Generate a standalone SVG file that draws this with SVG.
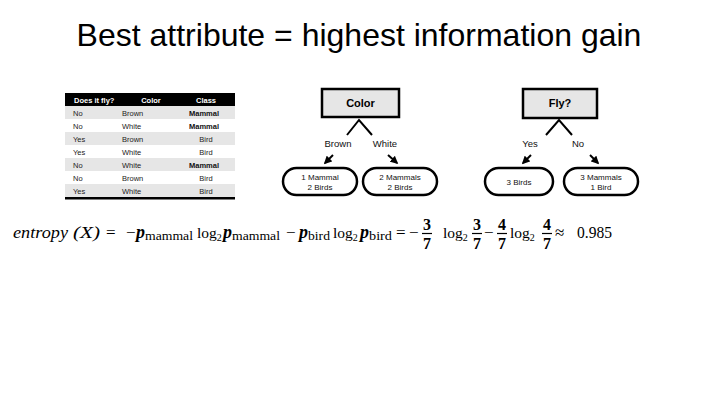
<svg xmlns="http://www.w3.org/2000/svg" width="720" height="405" viewBox="0 0 720 405">
<style>
.t{font-family:"Liberation Sans",Arial,sans-serif}
.th{font-family:"Liberation Sans",Arial,sans-serif;font-size:7.5px;fill:#fff;font-weight:bold}
.td{font-family:"Liberation Sans",Arial,sans-serif;font-size:7.5px;fill:#222}
.tb{font-family:"Liberation Sans",Arial,sans-serif;font-size:7.5px;fill:#111;font-weight:bold}
.box{fill:#e6e6e6;stroke:#000;stroke-width:2.5}
.leaf{fill:#fff;stroke:#000;stroke-width:2.5}
.nl{font-family:"Liberation Sans",Arial,sans-serif;font-size:11px;font-weight:bold;text-anchor:middle}
.ll{font-family:"Liberation Sans",Arial,sans-serif;font-size:8px;text-anchor:middle;fill:#111}
.el{font-family:"Liberation Sans",Arial,sans-serif;font-size:9.5px;text-anchor:middle;fill:#111}
.c{stroke:#000;stroke-width:2;fill:none}
.f{font-family:"Liberation Serif","Times New Roman",serif;font-size:17px;fill:#000}
.fl{font-family:"Liberation Serif","Times New Roman",serif;font-size:15.5px;fill:#000}
.fi{font-family:"Liberation Serif","Times New Roman",serif;font-size:17px;fill:#000;font-style:italic}
.fp{font-family:"Liberation Serif","Times New Roman",serif;font-size:18px;fill:#000;font-style:italic;font-weight:bold}
.fs{font-family:"Liberation Serif","Times New Roman",serif;font-size:12px;fill:#000}
.fn{font-family:"Liberation Serif","Times New Roman",serif;font-size:16px;fill:#000;text-anchor:middle;font-weight:bold}
.fb{stroke:#000;stroke-width:1.2}
</style>
<defs>
<marker id="ah" viewBox="0 0 10 10" refX="8" refY="5" markerWidth="4" markerHeight="4" orient="auto">
<path d="M0,0 L10,5 L0,10 z" fill="#000"/>
</marker>
</defs>
<rect width="720" height="405" fill="#fff"/>
<text class="t" x="359" y="46" font-size="32" text-anchor="middle">Best attribute = highest information gain</text>

<g id="table">
<rect x="65" y="93" width="170" height="13" fill="#000"/>
<rect x="65" y="106" width="170" height="13" fill="#e6e6e6"/>
<rect x="65" y="132" width="170" height="13" fill="#e6e6e6"/>
<rect x="65" y="158" width="170" height="13" fill="#e6e6e6"/>
<rect x="65" y="184" width="170" height="13" fill="#e6e6e6"/>
<rect x="65" y="197" width="170" height="2.5" fill="#000"/>
<text class="th" x="74" y="102.5">Does it fly?</text>
<text class="th" x="151" y="102.5" text-anchor="middle">Color</text>
<text class="th" x="206" y="102.5" text-anchor="middle">Class</text>
<text class="td" x="73" y="115.5">No</text><text class="td" x="122" y="115.5">Brown</text><text class="tb" x="204" y="115.5" text-anchor="middle">Mammal</text>
<text class="td" x="73" y="128.5">No</text><text class="td" x="122" y="128.5">White</text><text class="tb" x="204" y="128.5" text-anchor="middle">Mammal</text>
<text class="td" x="73" y="141.5">Yes</text><text class="td" x="122" y="141.5">Brown</text><text class="td" x="206" y="141.5" text-anchor="middle">Bird</text>
<text class="td" x="73" y="154.5">Yes</text><text class="td" x="122" y="154.5">White</text><text class="td" x="206" y="154.5" text-anchor="middle">Bird</text>
<text class="td" x="73" y="167.5">No</text><text class="td" x="122" y="167.5">White</text><text class="tb" x="204" y="167.5" text-anchor="middle">Mammal</text>
<text class="td" x="73" y="180.5">No</text><text class="td" x="122" y="180.5">Brown</text><text class="td" x="206" y="180.5" text-anchor="middle">Bird</text>
<text class="td" x="73" y="193.5">Yes</text><text class="td" x="122" y="193.5">White</text><text class="td" x="206" y="193.5" text-anchor="middle">Bird</text>
</g>

<g id="connectors">
<polyline class="c" points="347,135 359,120 372,135"/>
<line class="c" x1="333" y1="155" x2="325" y2="163" marker-end="url(#ah)"/>
<line class="c" x1="388" y1="155" x2="397" y2="163" marker-end="url(#ah)"/>
<polyline class="c" points="546,135 559,120 572,135"/>
<line class="c" x1="531" y1="155" x2="523" y2="163" marker-end="url(#ah)"/>
<line class="c" x1="590" y1="155" x2="598" y2="163" marker-end="url(#ah)"/>
<text class="el" x="338" y="147">Brown</text>
<text class="el" x="385" y="147">White</text>
<text class="el" x="530" y="147">Yes</text>
<text class="el" x="578" y="147">No</text>
</g>

<g id="node-color">
<rect class="box" x="322" y="89" width="77" height="28"/>
<text class="nl" x="360.5" y="107">Color</text>
</g>
<g id="node-brown">
<rect class="leaf" x="283" y="168" width="74" height="27" rx="13.5"/>
<text class="ll" x="320" y="180">1 Mammal</text>
<text class="ll" x="320" y="190">2 Birds</text>
</g>
<g id="node-white">
<rect class="leaf" x="363" y="168" width="74" height="27" rx="13.5"/>
<text class="ll" x="400" y="180">2 Mammals</text>
<text class="ll" x="400" y="190">2 Birds</text>
</g>
<g id="node-fly">
<rect class="box" x="523" y="89" width="74" height="29"/>
<text class="nl" x="560" y="107">Fly?</text>
</g>
<g id="node-yes">
<rect class="leaf" x="485" y="168" width="68" height="27" rx="13.5"/>
<text class="ll" x="519" y="185">3 Birds</text>
</g>
<g id="node-no">
<rect class="leaf" x="564" y="168" width="74" height="27" rx="13.5"/>
<text class="ll" x="601" y="180">3 Mammals</text>
<text class="ll" x="601" y="190">1 Bird</text>
</g>

<g id="formula">
<text class="fi" x="13" y="238" textLength="55" lengthAdjust="spacingAndGlyphs">entropy</text>
<text class="fi" x="73" y="238" textLength="27" lengthAdjust="spacingAndGlyphs">(X)</text>
<text class="f" x="106" y="238">=</text>
<text class="f" x="126" y="238">−</text>
<text class="fp" x="136" y="238">p</text>
<text class="fs" x="145" y="240" textLength="48" lengthAdjust="spacingAndGlyphs">mammal</text>
<text class="fl" x="197" y="238">log<tspan font-size="10" dy="3">2</tspan></text>
<text class="fp" x="223" y="238">p</text>
<text class="fs" x="232" y="240" textLength="48" lengthAdjust="spacingAndGlyphs">mammal</text>
<text class="f" x="286" y="238">−</text>
<text class="fp" x="299" y="238">p</text>
<text class="fs" x="308" y="240" textLength="22" lengthAdjust="spacingAndGlyphs">bird</text>
<text class="fl" x="333" y="238">log<tspan font-size="10" dy="3">2</tspan></text>
<text class="fp" x="360" y="238">p</text>
<text class="fs" x="369" y="240" textLength="23" lengthAdjust="spacingAndGlyphs">bird</text>
<text class="f" x="396" y="238">=</text>
<text class="f" x="409" y="238">−</text>
<text class="fn" x="427" y="230">3</text><line class="fb" x1="422" y1="233.5" x2="432" y2="233.5"/><text class="fn" x="427" y="249">7</text>
<text class="fl" x="443" y="238">log<tspan font-size="10" dy="3">2</tspan></text>
<text class="fn" x="477" y="230">3</text><line class="fb" x1="472" y1="233.5" x2="482" y2="233.5"/><text class="fn" x="477" y="249">7</text>
<text class="f" x="484" y="238">−</text>
<text class="fn" x="502" y="230">4</text><line class="fb" x1="497" y1="233.5" x2="507" y2="233.5"/><text class="fn" x="502" y="249">7</text>
<text class="fl" x="510" y="238">log<tspan font-size="10" dy="3">2</tspan></text>
<text class="fn" x="547" y="230">4</text><line class="fb" x1="542" y1="233.5" x2="552" y2="233.5"/><text class="fn" x="547" y="249">7</text>
<text class="f" x="555" y="238">≈</text>
<text class="f" x="577" y="238" textLength="35" lengthAdjust="spacingAndGlyphs">0.985</text>
</g>
</svg>
